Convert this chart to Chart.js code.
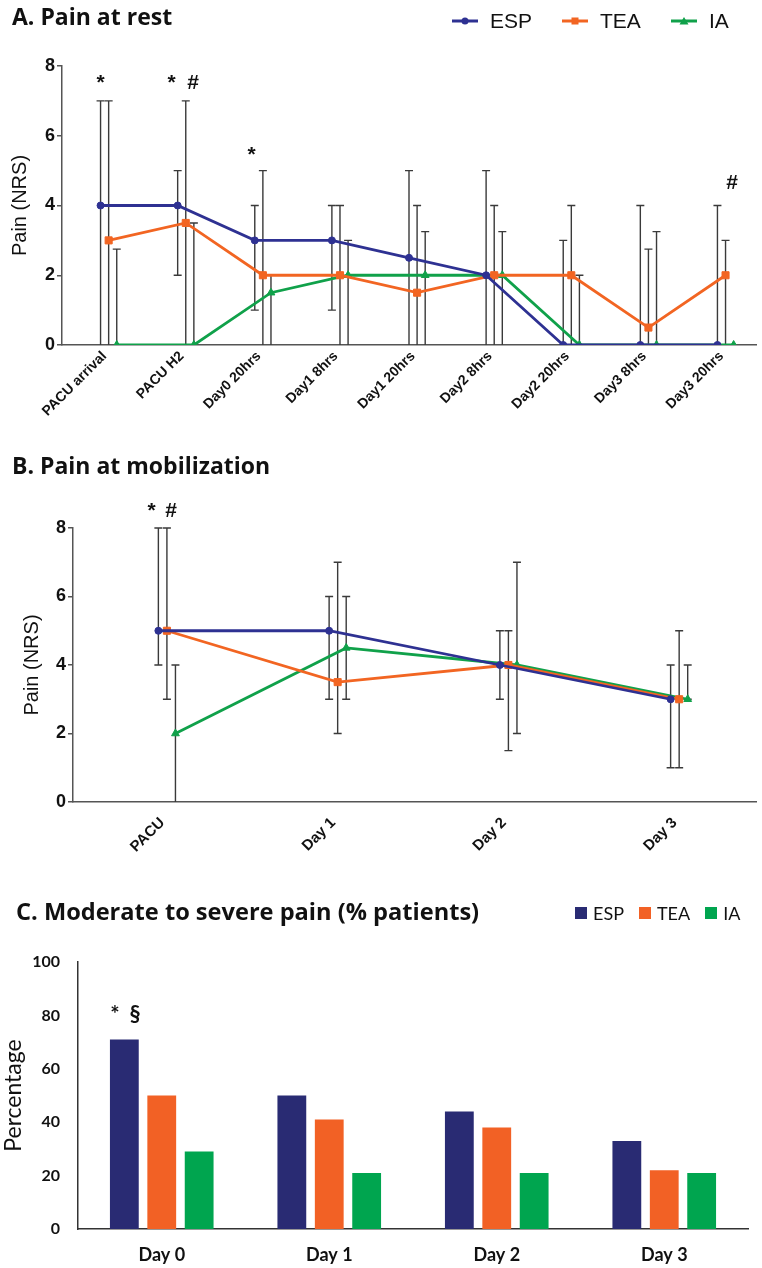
<!DOCTYPE html>
<html>
<head>
<meta charset="utf-8">
<script src="https://cdn.jsdelivr.net/npm/chart.js@4.4.1/dist/chart.umd.min.js"></script>
<style>
  body { margin: 0; background: #fff; }
  #page { position: relative; width: 762px; height: 1268px; overflow: hidden; }
  .panel { position: absolute; left: 0; }
  .title { position: absolute; font-family: "Open Sans", sans-serif; font-weight: 700; font-size: 23px; color: #111; white-space: nowrap; }
  .legend { position: absolute; display: flex; align-items: center; white-space: nowrap; color: #111; }
  .legend .item { display: flex; align-items: center; }
  #legendA { left: 452px; top: 9px; font: 21px 'Liberation Sans', Arial, sans-serif; }
  #legendA .item { margin-right: 30px; }
  #legendA svg { margin-right: 12px; }
  #legendC { left: 575px; top: 902px; font: 18px Lato, sans-serif; }
  #legendC .item { margin-right: 15px; }
  #legendC i { display: inline-block; width: 12px; height: 12px; margin-right: 6px; }
</style>
</head>
<body>
<div id="page">
  <div class="panel" style="top:0"><canvas id="chartA" width="762" height="425"></canvas></div>
  <div class="panel" style="top:440px"><canvas id="chartB" width="762" height="440"></canvas></div>
  <div class="panel" style="top:880px"><canvas id="chartC" width="762" height="388"></canvas></div>

  <div class="title" style="left:12px; top:0px;">A. Pain at rest</div>
  <div class="legend" id="legendA"></div>
  <div class="title" style="left:12px; top:449px;">B. Pain at mobilization</div>
  <div class="title" style="left:16px; top:895px; font-size:23.6px;">C. Moderate to severe pain (% patients)</div>
  <div class="legend" id="legendC"></div>
</div>

<script>
// groups
const groups = ["ESP", "TEA", "IA"];

// A. pain at rest (NRS)
const restLabels = ["PACU arrival", "PACU H2", "Day0 20hrs", "Day1 8hrs", "Day1 20hrs", "Day2 8hrs", "Day2 20hrs", "Day3 8hrs", "Day3 20hrs"];
const restESP = [4, 4, 3, 3, 2.5, 2, 0, 0, 0];
const restTEA = [3, 3.5, 2, 2, 1.5, 2, 2, 0.5, 2];
const restIA = [0, 0, 1.5, 2, 2, 2, 0, 0, 0];
const restESPLow = [0, 2, 1, 1, 0, 0, 0, 0, 0];
const restESPHigh = [7, 5, 4, 4, 5, 5, 3, 4, 4];
const restTEALow = [0, 0, 0, 0, 0, 0, 0, 0, 0];
const restTEAHigh = [7, 7, 5, 4, 4, 4, 4, 2.75, 3];
const restIALow = [0, 0, 0, 0, 0, 0, 0, 0, 0];
const restIAHigh = [2.75, 3.5, 2, 3, 3.25, 3.25, 2, 3.25, 0];

// B. pain at mobilization (NRS)
const mobLabels = ["PACU", "Day 1", "Day 2", "Day 3"];
const mobESP = [5, 5, 4, 3];
const mobTEA = [5, 3.5, 4, 3];
const mobIA = [2, 4.5, 4, 3];
const mobESPLow = [4, 3, 3, 1];
const mobESPHigh = [8, 6, 5, 4];
const mobTEALow = [3, 2, 1.5, 1];
const mobTEAHigh = [8, 7, 5, 5];
const mobIALow = [0, 3, 2, 3];
const mobIAHigh = [4, 6, 7, 4];

// C. moderate to severe pain (% patients)
const pctLabels = ["Day 0", "Day 1", "Day 2", "Day 3"];
const pctESP = [71, 50, 44, 33];
const pctTEA = [50, 41, 38, 22];
const pctIA = [29, 21, 21, 21];

const lineColors = ["#2e3192", "#f26522", "#10a14a"];
const barColors = ["#292b73", "#f26125", "#00a54f"];
const shapes = ["circle", "rect", "triangle"];
const arial = "'Liberation Sans', Arial, sans-serif";

// error bars, drawn under the lines
const errorBars = {
    id: "errorBars",
    beforeDatasetsDraw(chart) {
        const ctx = chart.ctx;
        const y = chart.scales.y;
        ctx.save();
        ctx.strokeStyle = "#3a3a3a";
        ctx.lineWidth = 1.4;
        chart.data.datasets.forEach((ds, di) => {
            if (!ds.errHigh) return;
            chart.getDatasetMeta(di).data.forEach((pt, i) => {
                if (ds.errHigh[i] === ds.errLow[i]) return;
                const top = y.getPixelForValue(ds.errHigh[i]);
                const bot = y.getPixelForValue(ds.errLow[i]);
                ctx.beginPath();
                ctx.moveTo(pt.x, bot);
                ctx.lineTo(pt.x, top);
                ctx.moveTo(pt.x - 4, top);
                ctx.lineTo(pt.x + 4, top);
                if (ds.errLow[i] > 0) {
                    ctx.moveTo(pt.x - 4, bot);
                    ctx.lineTo(pt.x + 4, bot);
                }
                ctx.stroke();
            });
        });
        ctx.restore();
    }
};

// significance marks (* # §)
const marks = {
    id: "marks",
    afterDatasetsDraw(chart, args, opts) {
        const ctx = chart.ctx;
        const { x, y } = chart.scales;
        ctx.save();
        ctx.font = opts.font;
        ctx.fillStyle = "#111";
        ctx.textAlign = "center";
        ctx.textBaseline = "middle";
        (opts.items || []).forEach(m => {
            ctx.fillText(m.text, x.getPixelForValue(m.x), y.getPixelForValue(m.y));
        });
        ctx.restore();
    }
};

function lineSet(i, values, low, high, dodge) {
    return {
        label: groups[i],
        data: values.map((v, k) => ({ x: k + dodge * i, y: v })),
        borderColor: lineColors[i],
        backgroundColor: lineColors[i],
        borderWidth: 2.8,
        pointStyle: shapes[i],
        pointRadius: [3.5, 5, 4.5][i],
        pointBorderWidth: 1,
        errLow: low,
        errHigh: high,
    };
}

function painOptions(labels, yWidth, xHeight, padTop, titlePad, tickFont, tickPad, items) {
    return {
        responsive: false,
        animation: false,
        layout: { padding: { top: padTop, left: 0, right: 1, bottom: 0 } },
        plugins: {
            legend: { display: false },
            tooltip: { enabled: false },
            marks: { font: "bold 21px " + arial, items },
        },
        scales: {
            x: {
                type: "linear",
                min: -0.5,
                max: labels.length - 0.5,
                afterBuildTicks: s => { s.ticks = labels.map((_, i) => ({ value: i })); },
                afterFit: s => { s.height = xHeight; },
                grid: { display: false, drawTicks: false },
                border: { color: "#555", width: 1.5 },
                ticks: {
                    callback: v => labels[v],
                    minRotation: 45,
                    maxRotation: 45,
                    autoSkip: false,
                    padding: tickPad,
                    labelOffset: 4,
                    color: "#111",
                    font: { family: arial, weight: "bold", size: tickFont },
                },
            },
            y: {
                min: 0,
                max: 8,
                afterFit: s => { s.width = yWidth; },
                ticks: { stepSize: 2, padding: 2, color: "#111", font: { family: arial, weight: "bold", size: 18 } },
                grid: { drawOnChartArea: false, tickLength: 5, color: "#555", lineWidth: 1.5 },
                border: { color: "#555", width: 1.5 },
                title: { display: true, text: "Pain (NRS)", color: "#111", font: { family: arial, size: 20 }, padding: { top: titlePad } },
            },
        },
    };
}

new Chart(document.getElementById("chartA"), {
    type: "line",
    data: {
        datasets: [
            lineSet(0, restESP, restESPLow, restESPHigh, 0.105),
            lineSet(1, restTEA, restTEALow, restTEAHigh, 0.105),
            lineSet(2, restIA, restIALow, restIAHigh, 0.105),
        ],
    },
    options: painOptions(restLabels, 62, 80, 66, 8, 14, 3, [
        { text: "*", x: 0, y: 7.5 },
        { text: "*", x: 0.92, y: 7.5 },
        { text: "#", x: 1.2, y: 7.5 },
        { text: "*", x: 1.96, y: 5.45 },
        { text: "#", x: 8.19, y: 4.64 },
    ]),
    plugins: [errorBars, marks],
});

new Chart(document.getElementById("chartB"), {
    type: "line",
    data: {
        datasets: [
            lineSet(0, mobESP, mobESPLow, mobESPHigh, 0.05),
            lineSet(1, mobTEA, mobTEALow, mobTEAHigh, 0.05),
            lineSet(2, mobIA, mobIALow, mobIAHigh, 0.05),
        ],
    },
    options: painOptions(mobLabels, 73, 78, 88, 20, 15, 12, [
        { text: "*", x: -0.04, y: 8.5 },
        { text: "#", x: 0.075, y: 8.5 },
    ]),
    plugins: [errorBars, marks],
});

new Chart(document.getElementById("chartC"), {
    type: "bar",
    data: {
        labels: pctLabels,
        datasets: [pctESP, pctTEA, pctIA].map((vals, i) => ({
            label: groups[i],
            data: vals,
            backgroundColor: barColors[i],
            categoryPercentage: 0.67,
            barPercentage: 0.77,
        })),
    },
    options: {
        responsive: false,
        animation: false,
        layout: { padding: { top: 82, left: 0, right: 14, bottom: 0 } },
        plugins: {
            legend: { display: false },
            tooltip: { enabled: false },
            marks: { font: "bold 22px Lato, sans-serif", items: [
                { text: "*", x: -0.28, y: 80 },
                { text: "§", x: -0.16, y: 80 },
            ] },
        },
        scales: {
            x: {
                afterFit: s => { s.height = 39; },
                grid: { display: false, drawTicks: false },
                border: { color: "#333", width: 1.5 },
                ticks: { padding: 15, color: "#111", font: { family: "Lato", weight: "bold", size: 18 } },
            },
            y: {
                min: 0,
                max: 100,
                afterFit: s => { s.width = 78; },
                grid: { display: false, drawTicks: false },
                border: { color: "#333", width: 1.5 },
                ticks: { stepSize: 20, padding: 18, color: "#111", font: { family: "Lato", weight: "bold", size: 16 } },
                title: { display: true, text: "Percentage", color: "#111", font: { family: "Lato", size: 23 }, padding: { top: 0 } },
            },
        },
    },
    plugins: [marks],
});

// html legends
function lineSymbol(color, shape) {
    let mark;
    if (shape === "circle") mark = `<circle cx="13" cy="6" r="3.5" fill="${color}"/>`;
    else if (shape === "rect") mark = `<rect x="9.5" y="2.5" width="7" height="7" fill="${color}"/>`;
    else mark = `<polygon points="13,2 17.5,9.5 8.5,9.5" fill="${color}"/>`;
    return `<svg width="26" height="12"><line x1="0" y1="6" x2="26" y2="6" stroke="${color}" stroke-width="3"/>${mark}</svg>`;
}

groups.forEach((name, i) => {
    const a = document.createElement("span");
    a.className = "item";
    a.innerHTML = lineSymbol(lineColors[i], shapes[i]) + "<span>" + name + "</span>";
    document.getElementById("legendA").appendChild(a);

    const c = document.createElement("span");
    c.className = "item";
    c.innerHTML = `<i style="background:${barColors[i]}"></i><span>${name}</span>`;
    document.getElementById("legendC").appendChild(c);
});
</script>
</body>
</html>
